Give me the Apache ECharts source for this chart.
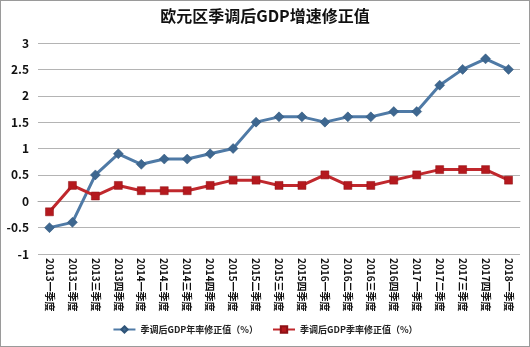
<!DOCTYPE html>
<html>
<head>
<meta charset="utf-8">
<script src="https://cdn.jsdelivr.net/npm/echarts@6/dist/echarts.min.js"></script>
<style>
  html, body { margin: 0; padding: 0; background: #fff; }
  #wrap { position: absolute; left: 0; top: 0; width: 528px; height: 345px; border: 1px solid #9a9a9a; }
  #chart { position: absolute; left: 0; top: 0; width: 530px; height: 347px; }
</style>
</head>
<body>
<div id="chart"></div>
<div id="wrap"></div>
<script>
// Quarterly categories
const quarters = [
  '2013一季度', '2013二季度', '2013三季度', '2013四季度',
  '2014一季度', '2014二季度', '2014三季度', '2014四季度',
  '2015一季度', '2015二季度', '2015三季度', '2015四季度',
  '2016一季度', '2016二季度', '2016三季度', '2016四季度',
  '2017一季度', '2017二季度', '2017三季度', '2017四季度',
  '2018一季度'
];
// Annualised revision (%)
const annualRate = [-0.5, -0.4, 0.5, 0.9, 0.7, 0.8, 0.8, 0.9, 1.0, 1.5, 1.6, 1.6, 1.5, 1.6, 1.6, 1.7, 1.7, 2.2, 2.5, 2.7, 2.5];
// Quarter-on-quarter revision (%)
const quarterRate = [-0.2, 0.3, 0.1, 0.3, 0.2, 0.2, 0.2, 0.3, 0.4, 0.4, 0.3, 0.3, 0.5, 0.3, 0.3, 0.4, 0.5, 0.6, 0.6, 0.6, 0.4];
const seriesNames = ['季调后GDP年率修正值（%）', '季调后GDP季率修正值（%）'];

const font = '"Noto Sans CJK SC", "Microsoft YaHei", sans-serif';
const chart = echarts.init(document.getElementById('chart'));
chart.setOption({
  animation: false,
  backgroundColor: '#fff',
  title: {
    text: '欧元区季调后GDP增速修正值',
    left: 'center',
    top: 3,
    textStyle: { fontFamily: font, fontSize: 16, fontWeight: 'bold', color: '#111' }
  },
  legend: {
    bottom: 8,
    left: 'center',
    itemGap: 14,
    itemWidth: 22,
    itemHeight: 8,
    textStyle: { fontFamily: font, fontSize: 9, fontWeight: 'bold', color: '#222' },
    data: seriesNames
  },
  grid: { left: 38, right: 10, top: 43, bottom: 93 },
  xAxis: {
    type: 'category',
    data: quarters,
    boundaryGap: true,
    axisLine: { lineStyle: { color: '#a8a8a8', width: 1 } },
    axisTick: { show: false },
    axisLabel: {
      rotate: -90,
      interval: 0,
      margin: 4,
      fontFamily: font,
      fontSize: 10,
      fontWeight: 'bold',
      color: '#111'
    }
  },
  yAxis: {
    type: 'value',
    min: -1,
    max: 3,
    interval: 0.5,
    axisLine: { show: false },
    axisTick: { show: false },
    axisLabel: {
      margin: 9,
      fontFamily: font,
      fontSize: 12,
      fontWeight: 'bold',
      color: '#111'
    },
    splitLine: { lineStyle: { color: '#b4b4b4', width: 1 } }
  },
  series: [
    {
      name: seriesNames[0],
      type: 'line',
      data: annualRate,
      symbol: 'diamond',
      symbolSize: 10,
      lineStyle: { color: '#4f7aa6', width: 3 },
      itemStyle: { color: '#3e6790', borderColor: '#2f5478', borderWidth: 0.5 }
    },
    {
      name: seriesNames[1],
      type: 'line',
      data: quarterRate,
      symbol: 'rect',
      symbolSize: 8,
      lineStyle: { color: '#c0282d', width: 3 },
      itemStyle: { color: '#b5191e', borderColor: '#8f1014', borderWidth: 0.5 }
    }
  ]
});
</script>
</body>
</html>
